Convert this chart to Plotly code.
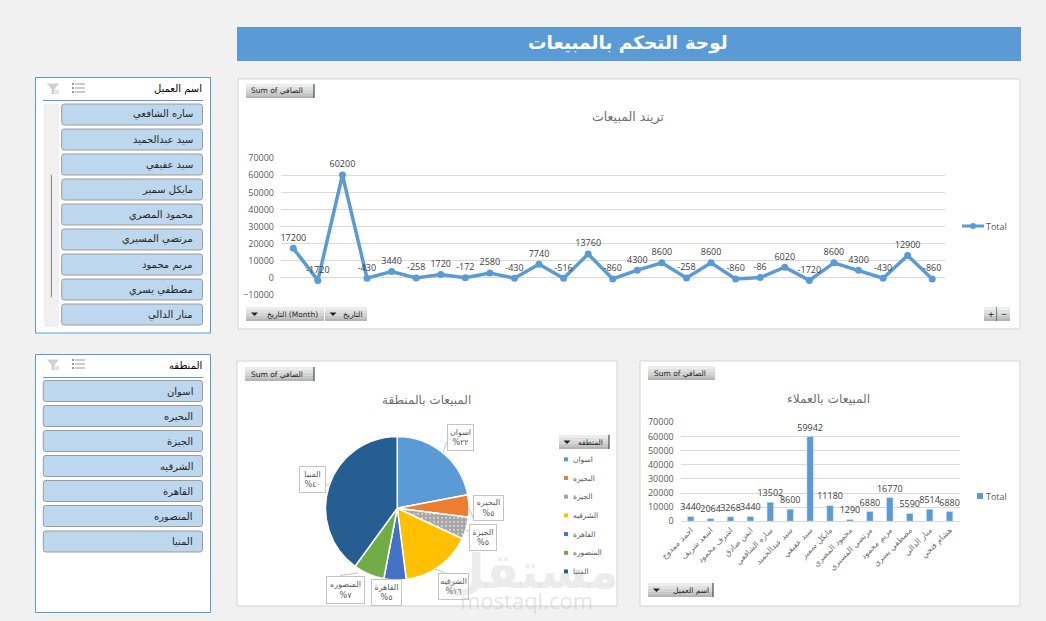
import plotly.graph_objects as go

W, H = 1046, 621

# Monthly sales trend
trend_values = [17200, -1720, 60200, -430, 3440, -258, 1720, -172, 2580, -430, 7740, -516, 13760, -860,
                4300, 8600, -258, 8600, -860, -86, 6020, -1720, 8600, 4300, -430, 12900, -860]

# Sales by customer
customers = ["احمد ممدوح", "اسعد شريف", "اشرف محمود", "ايمن صادق", "ساره الشافعي", "سيد عبدالحميد", "سيد عفيفي",
             "مايكل سمير", "محمود المصري", "مرتضي المسيري", "مريم محمود", "مصطفي يسري", "منار الدالي", "هشام فتحي"]
customer_sales = [3440, 2064, 3268, 3440, 13502, 8600, 59942, 11180, 1290, 6880, 16770, 5590, 8514, 6880]

# Sales share by region
regions = ["اسوان", "البحيره", "الجيزة", "الشرقيه", "القاهرة", "المنصوره", "المنيا"]
region_share = [22, 5, 5, 16, 5, 7, 40]
region_colors = ["#5b9bd5", "#ed7d31", "#a5a5a5", "#ffc000", "#4472c4", "#70ad47", "#255e91"]
region_patterns = ["", "", ".", "", "", "", ""]

# Slicer items
customer_slicer = ["ساره الشافعي", "سيد عبدالحميد", "سيد عفيفي", "مايكل سمير", "محمود المصري",
                   "مرتضي المسيري", "مريم محمود", "مصطفي يسري", "منار الدالي"]

BLUE = "#5b9bd5"
GRID = "#d9d9d9"
AXIS_TEXT = "#595959"
LATIN = "Open Sans, DejaVu Sans, sans-serif"
ARABIC = "DejaVu Sans, Noto Sans, sans-serif"


def fx(px):
    return px / W


def fy(py):
    return 1 - py / H


shapes, notes = [], []


def rect(x0, y0, x1, y1, fill="white", line=None, width=1, layer="below"):
    shapes.append(dict(type="rect", xref="paper", yref="paper", x0=fx(x0), x1=fx(x1), y0=fy(y0), y1=fy(y1),
                       fillcolor=fill, line=dict(color=line or "rgba(0,0,0,0)", width=width if line else 0),
                       layer=layer))


def seg(x0, y0, x1, y1, color, width=1, layer="below"):
    shapes.append(dict(type="line", xref="paper", yref="paper", x0=fx(x0), x1=fx(x1), y0=fy(y0), y1=fy(y1),
                       line=dict(color=color, width=width), layer=layer))


def poly(points, fill, line=None, layer="above"):
    path = "M" + " L".join(f"{fx(x):.5f},{fy(y):.5f}" for x, y in points) + " Z"
    shapes.append(dict(type="path", xref="paper", yref="paper", path=path, fillcolor=fill,
                       line=dict(color=line or "rgba(0,0,0,0)", width=1 if line else 0), layer=layer))


def text(x, y, s, size=10, color="#404040", anchor="center", family=ARABIC, **kw):
    notes.append(dict(xref="paper", yref="paper", x=fx(x), y=fy(y), text=s, showarrow=False, xanchor=anchor,
                      yanchor="middle", font=dict(size=size, color=color, family=family), **kw))


def field_button(x0, y0, x1, y1, label=None, text_x=None, anchor="right", arrow_x=None, edge=True):
    # Pivot field button: a stepped vertical gradient, optional dropdown arrow and dark right edge
    steps = ["#ececec", "#e0e0e0", "#d4d4d4", "#c6c6c6", "#b4b4b4"]
    h = (y1 - y0) / len(steps)
    for i, c in enumerate(steps):
        rect(x0, y0 + i * h, x1, y0 + (i + 1) * h, fill=c, layer="above")
    if edge:
        seg(x1, y0, x1, y1, "#1f2a44", 1, layer="above")
    if arrow_x is not None:
        cy = (y0 + y1) / 2
        poly([(arrow_x - 3.5, cy - 1.5), (arrow_x + 3.5, cy - 1.5), (arrow_x, cy + 2)], "#222222")
    if label:
        text(text_x, (y0 + y1) / 2, label, size=7.5, color="#222222", anchor=anchor)


def slicer(x0, y0, x1, y1, title, title_y, rule_y, items, tops, btn_x0):
    rect(x0, y0, x1, y1, fill="white", line=BLUE, width=1)
    text(204, title_y + 0.5, title, size=10, color="#000000", anchor="right")
    seg(43, rule_y, 203, rule_y, BLUE, 1)
    # multi-select icon
    for k in range(3):
        seg(75, title_y - 5 + k * 4, 85, title_y - 5 + k * 4, "#9a9a9a", 1)
        seg(72, title_y - 5 + k * 4, 74, title_y - 5 + k * 4, "#777777", 1.4)
    # clear-filter icon
    poly([(47, title_y - 5.5), (59, title_y - 5.5), (54.5, title_y), (54.5, title_y + 5), (51.5, title_y + 5),
          (51.5, title_y)], "#d0d0d0")
    seg(55, title_y + 1, 59, title_y + 5, "#d8d8d8", 1.2)
    seg(59, title_y + 1, 55, title_y + 5, "#d8d8d8", 1.2)
    for label, top in zip(items, tops):
        x_a, x_b, y_a, y_b, r = btn_x0, 202.5, top, top + 21, 2.5
        path = (f"M{fx(x_a + r)},{fy(y_a)} L{fx(x_b - r)},{fy(y_a)} Q{fx(x_b)},{fy(y_a)} {fx(x_b)},{fy(y_a + r)} "
                f"L{fx(x_b)},{fy(y_b - r)} Q{fx(x_b)},{fy(y_b)} {fx(x_b - r)},{fy(y_b)} "
                f"L{fx(x_a + r)},{fy(y_b)} Q{fx(x_a)},{fy(y_b)} {fx(x_a)},{fy(y_b - r)} "
                f"L{fx(x_a)},{fy(y_a + r)} Q{fx(x_a)},{fy(y_a)} {fx(x_a + r)},{fy(y_a)} Z")
        shapes.append(dict(type="path", xref="paper", yref="paper", path=path, fillcolor="#bdd7ee",
                           line=dict(color="#9c9c9c", width=1), layer="below"))
        text(195, top + 10.5, label, size=10, color="#262626", anchor="right")


# Dashboard banner
rect(237, 27, 1021, 61, fill=BLUE)
text(628, 43.5, "<b>لوحة التحكم بالمبيعات</b>", size=18.5, color="white")

# Chart panels
rect(238, 79, 1020, 329, line="#d4d4d4")
rect(237, 361, 617, 606, line="#d4d4d4")
rect(640, 361, 1020, 606, line="#d4d4d4")

# Chart titles
text(628, 117, "تريند المبيعات", size=12.5, color="#6e6e6e")
text(426, 399.5, "المبيعات بالمنطقة", size=12, color="#6e6e6e")
text(828, 398.5, "المبيعات بالعملاء", size=12.2, color="#6e6e6e")

# Slicers
slicer(35.5, 77.5, 210.5, 333, "اسم العميل", 89, 100.5, customer_slicer, [104 + 25 * i for i in range(9)], 61.7)
rect(44, 104, 59, 327, fill="#f0f0f0")
seg(51.4, 175, 51.4, 297, "#808080", 1)
slicer(35.5, 354.5, 210.5, 612.5, "المنطقه", 365, 377.5, regions, [380.5, 405.5, 430.5, 455.5, 480.5, 505.5, 531], 43.3)

# Pivot field buttons
SUM_LABEL = "Sum of الصافي"
field_button(246, 84, 314, 98, SUM_LABEL, 249, "left")
field_button(246, 307, 324, 321, "التاريخ (Month)", 320, "right", arrow_x=254.5, edge=False)
field_button(325, 307, 367, 321, "التاريخ", 364, "right", arrow_x=333, edge=False)
field_button(984, 307, 997, 321, "+", 990.5, "center")
field_button(997, 307, 1010, 321, "−", 1003.5, "center", edge=False)
field_button(245, 367, 314, 381, SUM_LABEL, 248.5, "left")
field_button(559, 435, 609, 449, "المنطقه", 605, "right", arrow_x=567)
field_button(648, 366, 715, 380, SUM_LABEL, 651.5, "left", edge=False)
field_button(648, 583, 713, 597, "اسم العميل", 710.5, "right", arrow_x=656.5)

# Legend of the trend chart
seg(962, 226, 984, 226, BLUE, 3)
shapes.append(dict(type="circle", xref="paper", yref="paper", x0=fx(970), x1=fx(976), y0=fy(229), y1=fy(223),
                   fillcolor=BLUE, line=dict(width=0), layer="below"))
text(983.5, 226.5, "Total", size=9, color=AXIS_TEXT, anchor="left", family=LATIN)

# Legend of the customer chart
rect(977, 493, 983, 499, fill=BLUE)
text(983.5, 496, "Total", size=9, color=AXIS_TEXT, anchor="left", family=LATIN)

# Legend of the region chart
for i, (name, color) in enumerate(zip(regions, region_colors)):
    cy = 459.3 + 18.7 * i
    rect(564, cy - 2, 568, cy + 2, fill=color)
    text(570.5, cy, name, size=7.5, color=AXIS_TEXT, anchor="left")

# Region data labels with a percent in Arabic-Indic digits
DIGITS = str.maketrans("0123456789", "٠١٢٣٤٥٦٧٨٩")
label_boxes = [(460, 437, 25, 25), (488, 507.5, 29, 24), (482.7, 537, 26, 25), (453, 586, 29, 25),
               (386.8, 592, 29, 25), (345.8, 590, 37, 26), (312, 479.5, 25, 25)]
for name, share, (cx, cy, bw, bh) in zip(regions, region_share, label_boxes):
    notes.append(dict(xref="paper", yref="paper", x=fx(cx), y=fy(cy), xanchor="center", yanchor="middle",
                      text=f"{name}<br>%{str(share).translate(DIGITS)}", showarrow=False, align="center",
                      width=bw, height=bh, bgcolor="white", bordercolor="#c4c4c4", borderwidth=1, borderpad=0,
                      font=dict(size=8, color=AXIS_TEXT, family=ARABIC)))

# Leader lines from the label boxes to the slices
for a, b, c, d in [(446.7, 441.7, 443.3, 451.7), (468.3, 506.7, 473.3, 518.3), (466, 530, 472.7, 532.7),
                   (435, 569, 445, 572.7), (340, 575.5, 358, 573), (325, 485, 329, 485)]:
    seg(a, b, c, d, "#c4c4c4", 1, layer="above")

# Watermark
text(531, 571, "<b>مستقل</b>", size=48, color="rgba(190,190,190,0.30)")
text(526, 600, "mostaql.com", size=22, color="rgba(190,190,190,0.40)", family=LATIN)

fig = go.Figure()

fig.add_trace(go.Scatter(
    y=trend_values, mode="lines+markers+text", name="Total", xaxis="x", yaxis="y",
    line=dict(color=BLUE, width=3.5), marker=dict(color=BLUE, size=7),
    text=[str(v) for v in trend_values], textposition="top center",
    textfont=dict(size=9, color="#404040", family=LATIN), cliponaxis=False, showlegend=False))

fig.add_trace(go.Bar(
    x=customers, y=customer_sales, name="Total", xaxis="x2", yaxis="y2", marker=dict(color=BLUE),
    text=[str(v) for v in customer_sales], textposition="outside", cliponaxis=False, constraintext="none",
    textangle=0, textfont=dict(size=9, color="#404040", family=LATIN), showlegend=False, width=0.33))

fig.add_trace(go.Pie(
    labels=regions, values=region_share, sort=False, direction="clockwise", rotation=0, textinfo="none",
    marker=dict(colors=region_colors, line=dict(color="white", width=1.5),
                pattern=dict(shape=region_patterns, fgcolor="#cfcfcf", bgcolor=region_colors, size=4, solidity=0.25)),
    showlegend=False, domain=dict(x=[fx(325.5), fx(469)], y=[fy(580), fy(436.5)])))


def value_axis(top, bottom, lo, hi, anchor):
    return dict(domain=[fy(bottom), fy(top)], range=[lo, hi], dtick=10000, anchor=anchor, showgrid=True,
                gridcolor=GRID, gridwidth=1, zeroline=False, showline=False, ticks="", ticklabelstandoff=6,
                tickfont=dict(size=9, color=AXIS_TEXT, family=LATIN), tickformat="d")


fig.update_layout(
    width=W, height=H, margin=dict(l=0, r=0, t=0, b=0, autoexpand=False), autosize=False,
    paper_bgcolor="#f1f1f1", plot_bgcolor="rgba(0,0,0,0)", bargap=0.67,
    xaxis=dict(domain=[fx(281), fx(944.5)], range=[-0.5, 26.5], anchor="y", showgrid=False, zeroline=False,
               showticklabels=False, ticks=""),
    yaxis=value_axis(158.3, 294.5, -10000, 70000, "x"),
    xaxis2=dict(domain=[fx(680.7), fx(959.5)], anchor="y2", showgrid=False, zeroline=False, showline=True,
                linecolor=GRID, ticks="", tickangle=-45, categoryorder="array", categoryarray=customers,
                tickfont=dict(size=8, color="#6e6e6e", family=ARABIC), automargin=False),
    yaxis2=value_axis(422.3, 521.3, 0, 70000, "x2"),
    shapes=shapes, annotations=notes)

fig.write_html("out.html")
